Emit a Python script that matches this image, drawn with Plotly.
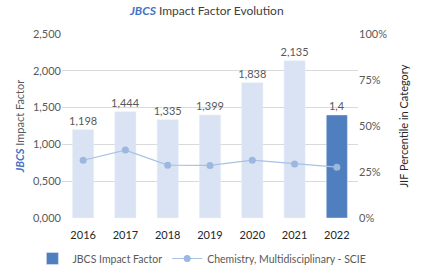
import plotly.graph_objects as go

years = ["2016", "2017", "2018", "2019", "2020", "2021", "2022"]
impact = [1.198, 1.444, 1.335, 1.399, 1.838, 2.135, 1.4]
impact_labels = ["1,198", "1,444", "1,335", "1,399", "1,838", "2,135", "1,4"]
percentile = [31.4, 36.9, 28.7, 28.6, 31.4, 29.3, 27.6]
left_ticks = [0, 0.5, 1.0, 1.5, 2.0, 2.5]
left_tick_text = ["0,000", "0,500", "1,000", "1,500", "2,000", "2,500"]
right_ticks = [0, 25, 50, 75, 100]
right_tick_text = ["0%", "25%", "50%", "75%", "100%"]

FONT = "Lato"
GRAY = "#595959"

fig = go.Figure()
fig.add_trace(go.Bar(
    x=years[:-1], y=impact[:-1], text=impact_labels[:-1], textposition="outside",
    constraintext="none",
    marker_color="#DAE3F3", showlegend=False, width=0.5, cliponaxis=False,
    textfont=dict(color=GRAY, size=11, family=FONT)))
fig.add_trace(go.Bar(
    x=years[-1:], y=impact[-1:], text=impact_labels[-1:], textposition="outside",
    constraintext="none",
    marker_color="#4F7FBE", name="JBCS Impact Factor", width=0.5, cliponaxis=False,
    textfont=dict(color=GRAY, size=11, family=FONT)))
fig.add_trace(go.Scatter(
    x=years, y=percentile, yaxis="y2", mode="lines+markers",
    name="Chemistry, Multidisciplinary - SCIE",
    line=dict(color="#A9C1E4", width=1.2),
    marker=dict(color="#9CB7E0", size=7)))

fig.update_layout(
    width=422, height=272,
    margin=dict(l=62, r=64, t=34, b=54, autoexpand=False),
    paper_bgcolor="white", plot_bgcolor="white",
    barmode="overlay",
    font=dict(family=FONT, size=11, color=GRAY),
    title=dict(text="<span style='color:#4472C4'><i><b>JBCS</b></i></span> Impact Factor Evolution",
               x=0.49, xanchor="center", y=0.96, yanchor="middle",
               font=dict(size=12, color="#404040", family=FONT)),
    xaxis=dict(type="category", showgrid=False, ticks="", ticklabelstandoff=9,
               tickfont=dict(color="#262626", size=11), showline=False),
    yaxis=dict(range=[0, 2.5], tickvals=left_ticks, ticktext=left_tick_text,
               gridcolor="#D9D9D9", zeroline=False, showline=False, ticks="",
               title=dict(text="<span style='color:#4472C4'><i><b>JBCS</b></i></span> Impact Factor",
                          standoff=6, font=dict(size=11, color=GRAY))),
    yaxis2=dict(range=[0, 100], tickvals=right_ticks, ticktext=right_tick_text,
                overlaying="y", side="right", showgrid=False, zeroline=False, ticks="",
                title=dict(text="JIF Percentile in Category", standoff=14,
                           font=dict(size=11, color="#262626"))),
    legend=dict(orientation="h", x=-0.1, xanchor="left", y=-0.22, yanchor="middle",
                bgcolor="rgba(0,0,0,0)",
                font=dict(size=10.5, color=GRAY), itemwidth=30, tracegroupgap=0),
    showlegend=True,
)

fig.write_html("out.html", config={"displayModeBar": False},
               post_script="document.body.style.margin='0';")
